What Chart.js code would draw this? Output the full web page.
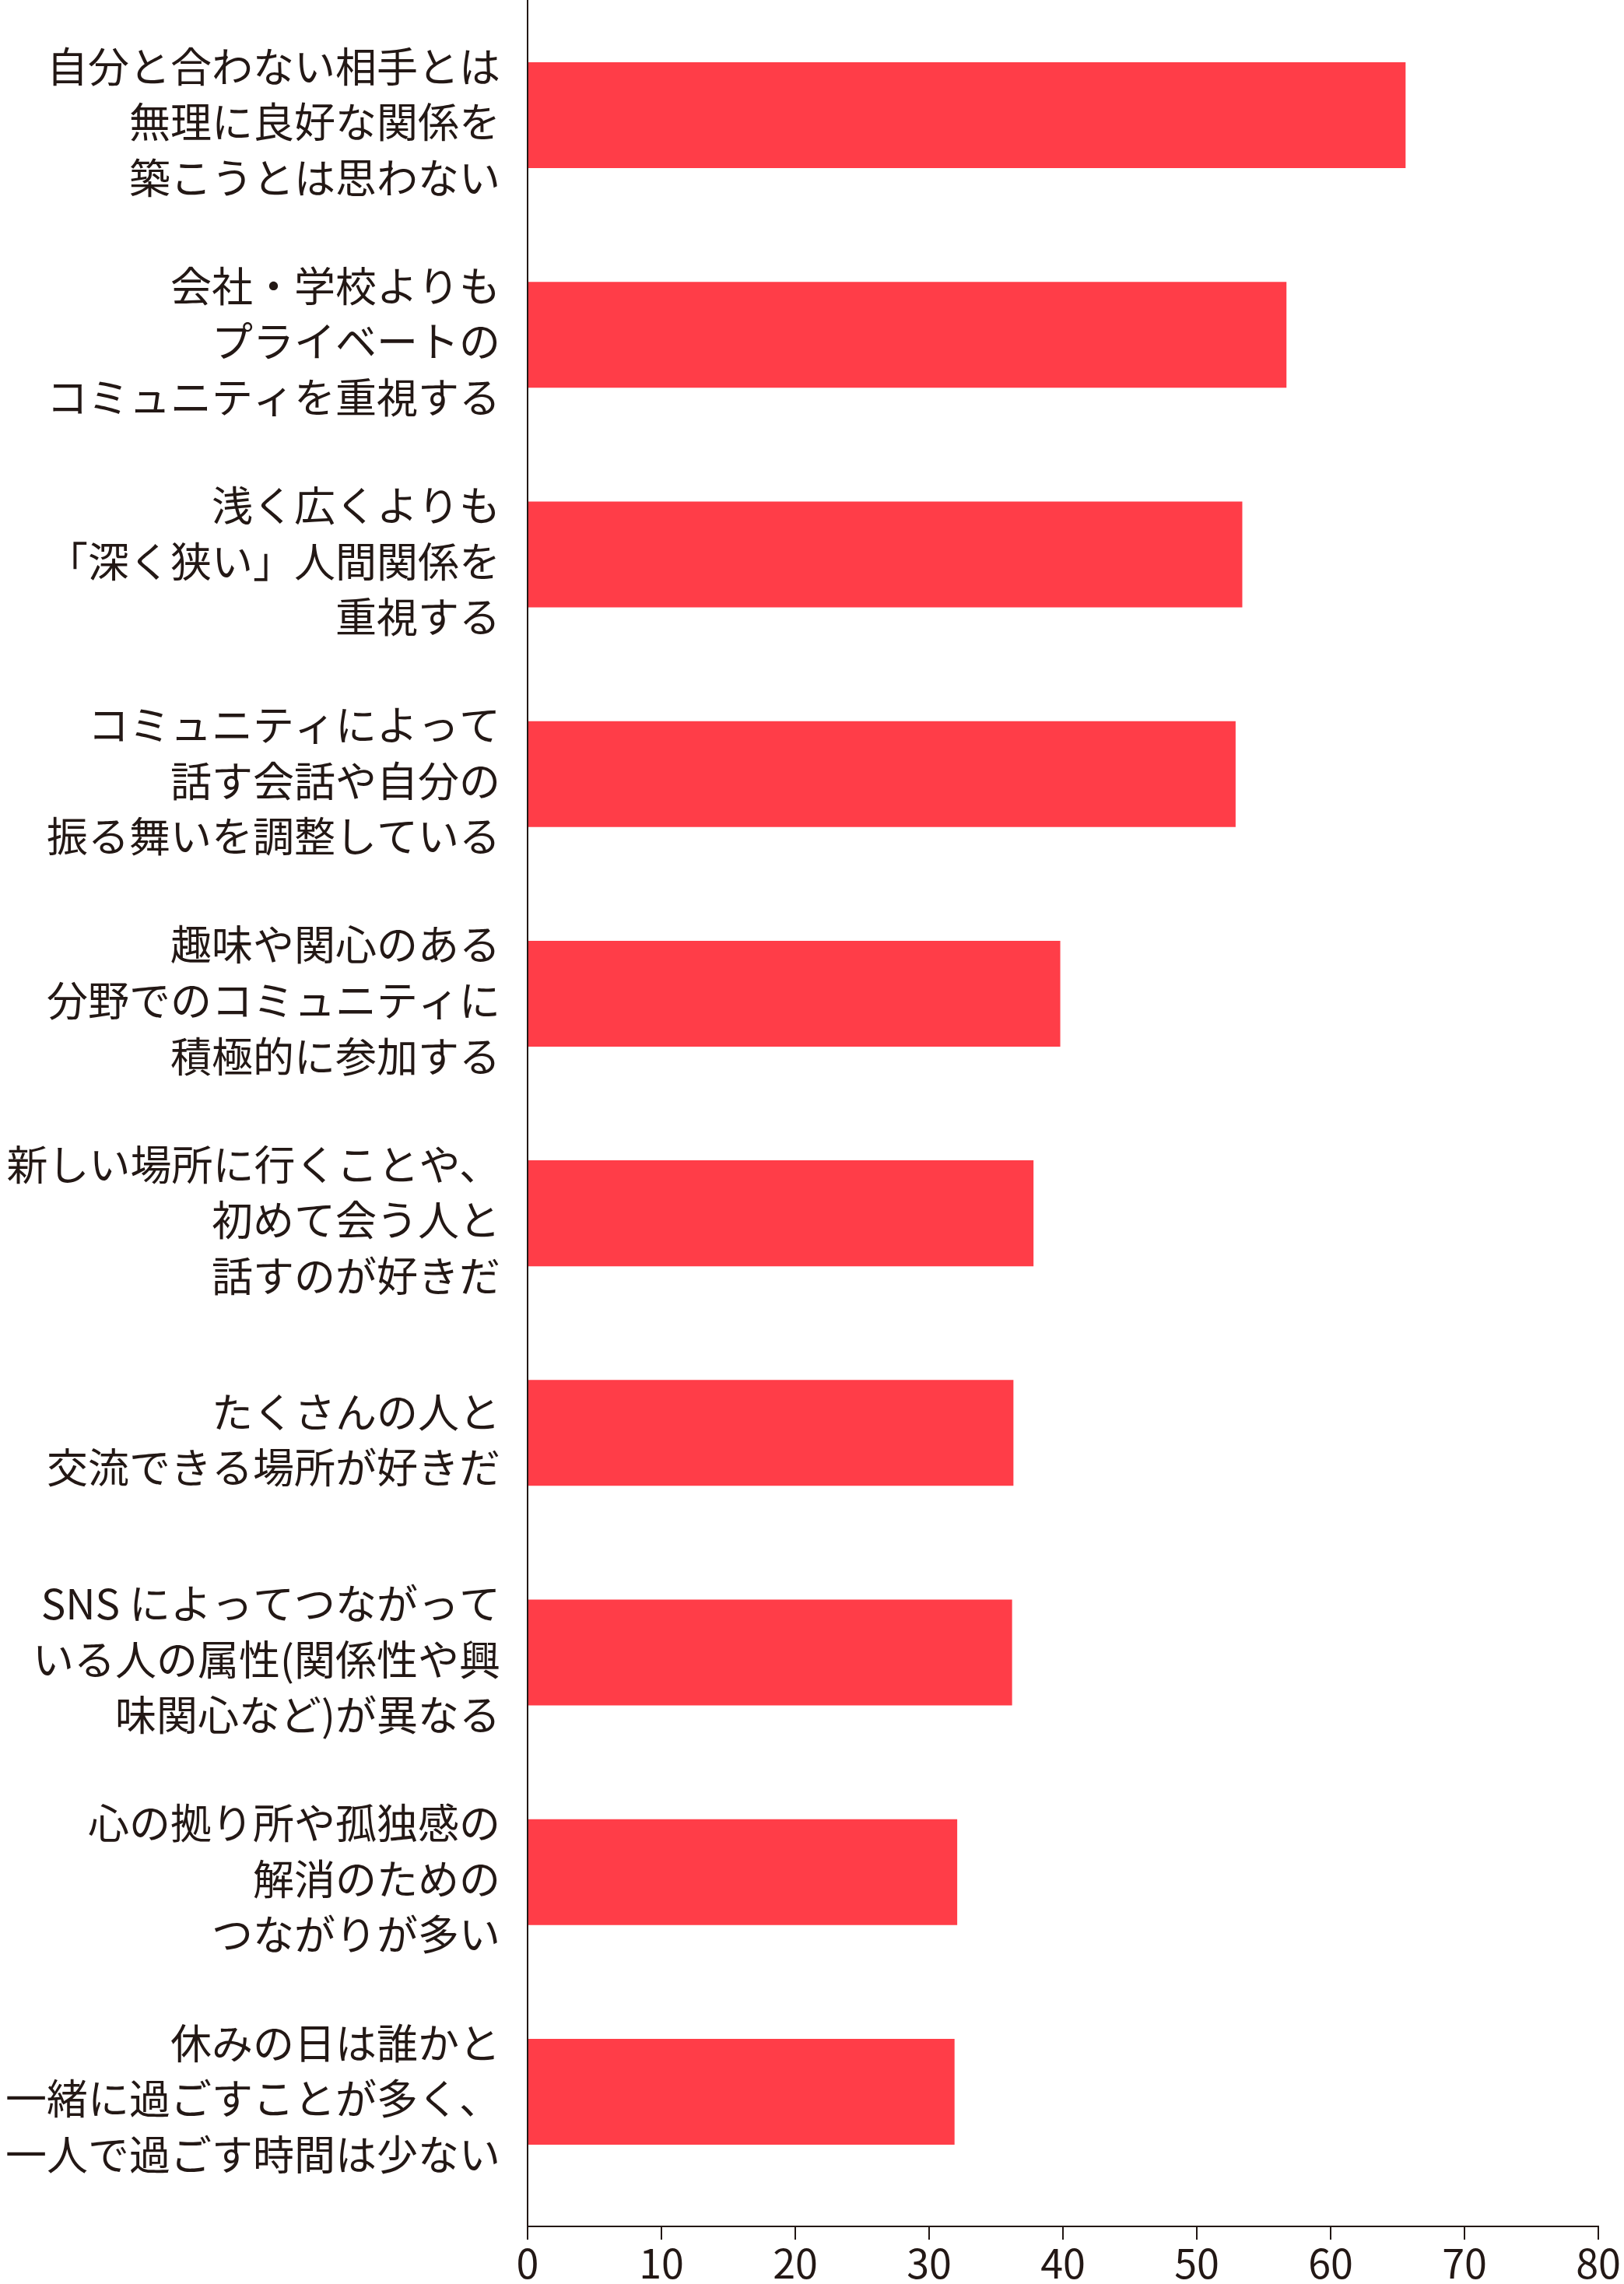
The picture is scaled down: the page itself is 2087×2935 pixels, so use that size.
<!DOCTYPE html>
<html lang="ja">
<head>
<meta charset="utf-8">
<title>つながり意識</title>
<script src="https://cdn.jsdelivr.net/npm/chart.js@4.4.1/dist/chart.umd.min.js"></script>
<style>
  html, body { margin: 0; padding: 0; background: #fff; }
  canvas { display: block; }
</style>
</head>
<body>
<canvas id="chartTsunagari" width="2087" height="2935"></canvas>
<script>
// categories (multi-line labels, top to bottom)
const categorias = [
    ['自分と合わない相手とは', '無理に良好な関係を', '築こうとは思わない'],
    ['会社・学校よりも', 'プライベートの', 'コミュニティを重視する'],
    ['浅く広くよりも', '「深く狭い」人間関係を', '重視する'],
    ['コミュニティによって', '話す会話や自分の', '振る舞いを調整している'],
    ['趣味や関心のある', '分野でのコミュニティに', '積極的に参加する'],
    ['新しい場所に行くことや、', '初めて会う人と', '話すのが好きだ'],
    ['たくさんの人と', '交流できる場所が好きだ'],
    ['SNS によってつながって', 'いる人の属性(関係性や興', '味関心など)が異なる'],
    ['心の拠り所や孤独感の', '解消のための', 'つながりが多い'],
    ['休みの日は誰かと', '一緒に過ごすことが多く、', '一人で過ごす時間は少ない']
];
// percentages
const valores = [65.6, 56.7, 53.4, 52.9, 39.8, 37.8, 36.3, 36.2, 32.1, 31.9];
// x axis ticks
const ticksX = [0, 10, 20, 30, 40, 50, 60, 70, 80];

const INK = '#231815';
const BAR = '#ff3d48';
const FONT = "'Noto Sans CJK JP', 'Noto Sans', sans-serif";

// linear index axis so the band can leave the small gap above the x axis
const puntos = valores.map((v, i) => ({ x: v, y: i }));

new Chart(document.getElementById('chartTsunagari'), {
    type: 'bar',
    data: {
        datasets: [{
            data: puntos,
            backgroundColor: BAR,
            borderWidth: 0,
            categoryPercentage: 1,
            barPercentage: 0.482
        }]
    },
    options: {
        indexAxis: 'y',
        responsive: false,
        animation: false,
        devicePixelRatio: 1,
        layout: { padding: { top: 0, right: 33, bottom: 0, left: 0 } },
        plugins: { legend: { display: false }, tooltip: { enabled: false } },
        scales: {
            x: {
                type: 'linear',
                min: ticksX[0],
                max: ticksX[ticksX.length - 1],
                afterBuildTicks: s => { s.ticks = ticksX.map(v => ({ value: v })); },
                afterFit: s => { s.height = 74; s.paddingLeft = 0; s.paddingRight = 0; },
                grid: { drawOnChartArea: false, drawTicks: true, tickLength: 17, color: INK, lineWidth: 2 },
                border: { display: true, color: INK, width: 2 },
                ticks: { color: INK, padding: 4, font: { family: FONT, size: 52, lineHeight: 1 } }
            },
            y: {
                type: 'linear',
                offset: false,
                reverse: true,
                min: -0.5245,
                max: 9.613,
                afterBuildTicks: s => { s.ticks = categorias.map((_, i) => ({ value: i })); },
                afterFit: s => { s.width = 678; s.paddingTop = 0; s.paddingBottom = 0; },
                grid: { offset: false, drawOnChartArea: false, drawTicks: false },
                border: { display: true, color: INK, width: 2 },
                ticks: {
                    color: INK,
                    padding: 35,
                    labelOffset: 9,
                    font: { family: FONT, size: 53, lineHeight: 1.35 },
                    callback: v => categorias[v] || ''
                }
            }
        }
    }
});
</script>
</body>
</html>
